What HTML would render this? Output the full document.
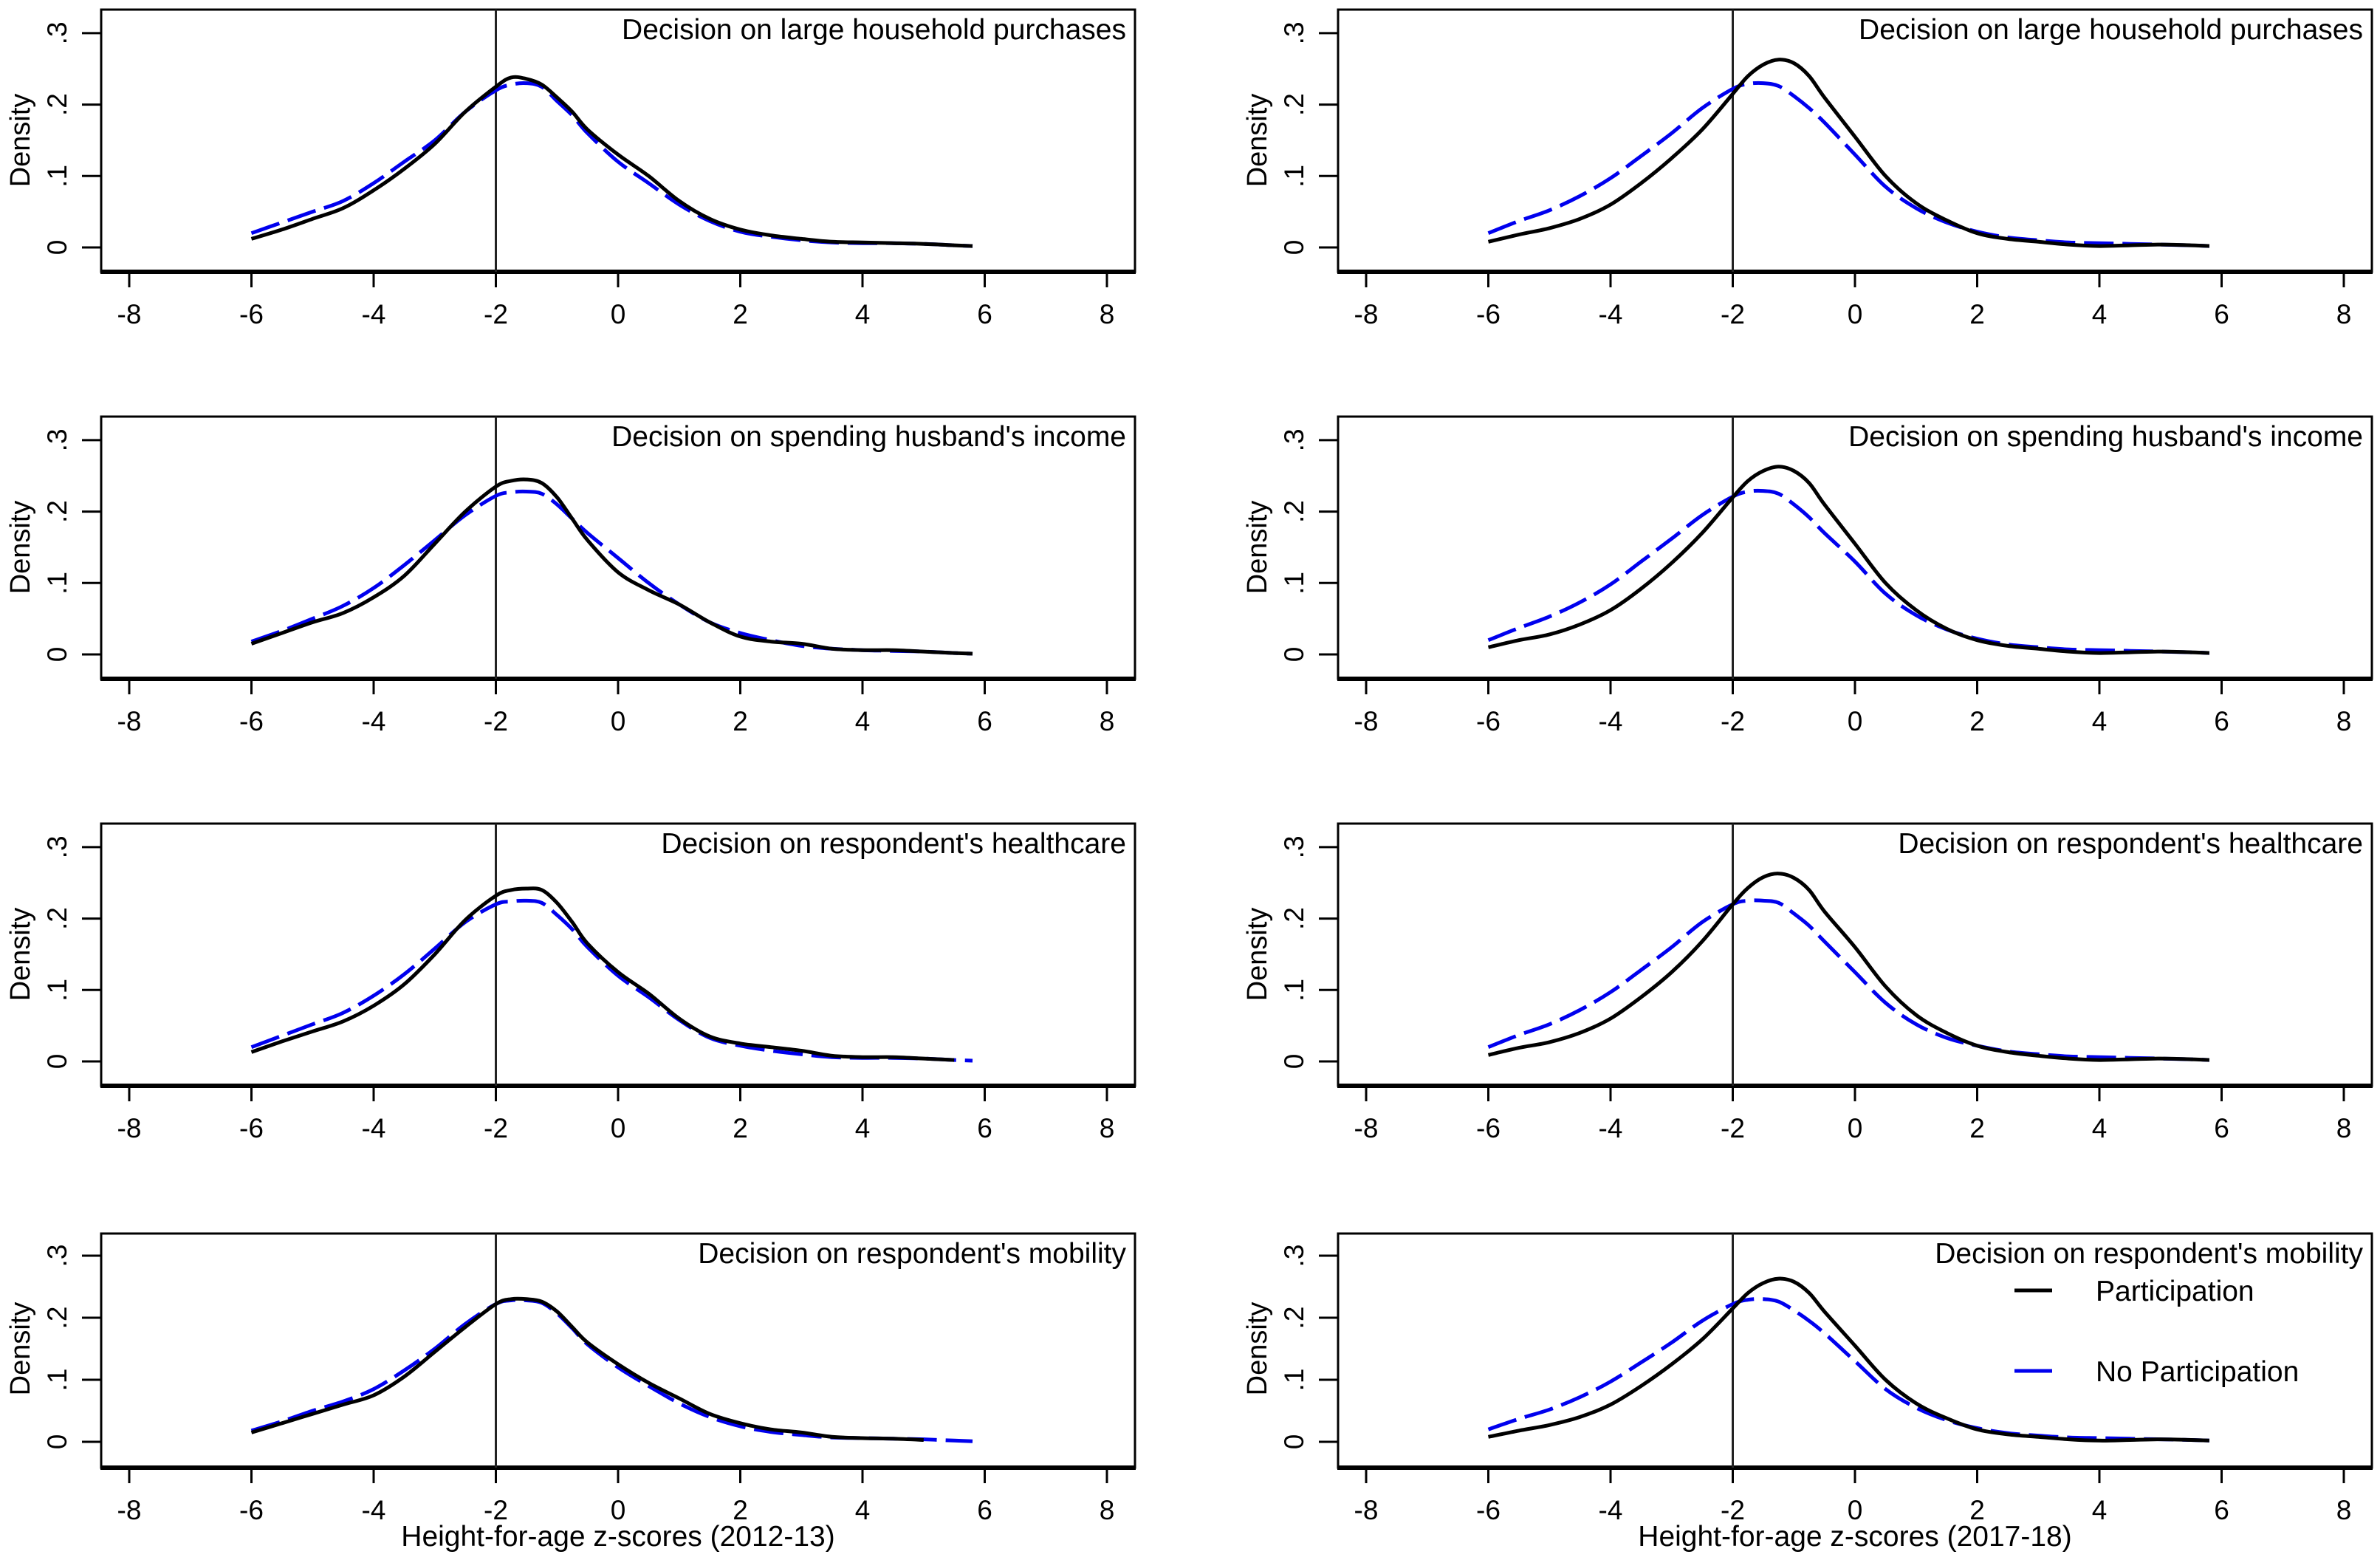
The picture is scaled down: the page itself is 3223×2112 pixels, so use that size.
<!DOCTYPE html>
<html><head><meta charset="utf-8"><style>
html,body{margin:0;padding:0;background:#fff}
svg{display:block;font-family:"Liberation Sans",Arial,sans-serif}
</style></head><body>
<svg id="chart" width="3223" height="2112" viewBox="0 0 3223 2112" xmlns="http://www.w3.org/2000/svg"></svg>
<script>
const xs=[-6,-5.5,-5,-4.5,-4,-3.5,-3,-2.5,-2,-1.75,-1.5,-1.25,-1,-0.75,-0.5,0,0.5,1,1.5,2,2.5,3,3.5,4,4.5,5,5.5,5.8];
const xTicks=[-8,-6,-4,-2,0,2,4,6,8];
const yTicks=[0,0.1,0.2,0.3];
const yTickLabels=["0",".1",".2",".3"];
const titles=["Decision on large household purchases","Decision on spending husband's income","Decision on respondent's healthcare","Decision on respondent's mobility"];
const xTitles=["Height-for-age z-scores (2012-13)","Height-for-age z-scores (2017-18)"];
const cutoff=-2;
// left column (2012-13)
const L1p=[0.012,0.025,0.04,0.055,0.08,0.11,0.145,0.19,0.225,0.238,0.236,0.228,0.21,0.19,0.165,0.13,0.1,0.065,0.04,0.025,0.017,0.012,0.008,0.007,0.006,0.005,0.003,0.002];
const L1n=[0.02,0.035,0.05,0.065,0.09,0.12,0.15,0.19,0.22,0.228,0.23,0.225,0.205,0.185,0.16,0.12,0.09,0.06,0.037,0.022,0.015,0.01,0.007,0.006,0.006,0.005,0.003,0.002];
const L2p=[0.015,0.03,0.045,0.058,0.08,0.11,0.155,0.2,0.235,0.243,0.245,0.24,0.22,0.19,0.16,0.115,0.09,0.07,0.045,0.025,0.018,0.015,0.008,0.006,0.006,0.004,0.002,0.001];
const L2n=[0.018,0.033,0.05,0.068,0.093,0.125,0.16,0.195,0.222,0.227,0.228,0.225,0.21,0.19,0.17,0.135,0.1,0.07,0.045,0.03,0.02,0.012,0.008,0.006,0.005,0.004,0.002,0.001];
const L3p=[0.013,0.028,0.042,0.056,0.078,0.108,0.15,0.198,0.232,0.24,0.242,0.24,0.222,0.195,0.165,0.125,0.095,0.06,0.035,0.025,0.02,0.015,0.008,0.006,0.006,0.004,0.002,null];
const L3n=[0.02,0.036,0.052,0.068,0.092,0.122,0.158,0.195,0.22,0.224,0.225,0.222,0.205,0.185,0.16,0.12,0.09,0.058,0.033,0.022,0.015,0.01,0.006,0.005,0.005,0.004,0.002,0.001];
const L4p=[0.015,0.03,0.045,0.06,0.075,0.105,0.145,0.185,0.222,0.23,0.23,0.226,0.21,0.185,0.16,0.125,0.095,0.07,0.045,0.03,0.02,0.015,0.008,0.006,0.005,0.003,null,null];
const L4n=[0.018,0.033,0.05,0.065,0.085,0.115,0.15,0.19,0.222,0.228,0.228,0.224,0.207,0.183,0.157,0.12,0.09,0.062,0.04,0.025,0.016,0.011,0.007,0.006,0.005,0.004,0.002,0.001];
// right column (2017-18)
const R1p=[0.008,0.018,0.027,0.04,0.06,0.09,0.125,0.165,0.215,0.24,0.256,0.263,0.258,0.24,0.21,0.155,0.1,0.062,0.038,0.02,0.012,0.008,0.004,0.002,0.003,0.004,0.003,0.002];
const R1n=[0.02,0.037,0.052,0.072,0.097,0.128,0.16,0.195,0.222,0.229,0.23,0.226,0.212,0.195,0.175,0.13,0.085,0.055,0.035,0.022,0.014,0.01,0.007,0.006,0.005,0.004,0.003,0.002];
const R2p=[0.01,0.02,0.028,0.042,0.062,0.092,0.128,0.17,0.22,0.243,0.257,0.263,0.257,0.24,0.21,0.155,0.1,0.062,0.036,0.02,0.012,0.008,0.004,0.002,0.003,0.004,0.003,0.002];
const R2n=[0.02,0.037,0.053,0.073,0.098,0.13,0.162,0.195,0.221,0.228,0.229,0.225,0.21,0.192,0.17,0.13,0.085,0.055,0.035,0.022,0.014,0.01,0.007,0.006,0.005,0.004,0.003,0.002];
const R3p=[0.009,0.019,0.027,0.04,0.06,0.09,0.125,0.168,0.22,0.243,0.258,0.263,0.257,0.24,0.21,0.16,0.105,0.065,0.04,0.022,0.013,0.008,0.004,0.002,0.003,0.004,0.003,0.002];
const R3n=[0.02,0.037,0.052,0.072,0.097,0.128,0.16,0.195,0.22,0.225,0.225,0.222,0.207,0.19,0.168,0.125,0.082,0.052,0.033,0.022,0.014,0.01,0.007,0.006,0.005,0.004,0.003,0.002];
const R4p=[0.008,0.018,0.027,0.04,0.06,0.09,0.125,0.165,0.215,0.24,0.256,0.263,0.258,0.24,0.21,0.155,0.1,0.062,0.038,0.02,0.012,0.008,0.004,0.002,0.003,0.004,0.003,0.002];
const R4n=[0.02,0.037,0.052,0.072,0.097,0.128,0.16,0.195,0.222,0.229,0.23,0.226,0.212,0.195,0.175,0.13,0.085,0.055,0.035,0.022,0.014,0.01,0.007,0.006,0.005,0.004,0.003,0.002];
const seriesP=[[L1p,L2p,L3p,L4p],[R1p,R2p,R3p,R4p]];
const seriesN=[[L1n,L2n,L3n,L4n],[R1n,R2n,R3n,R4n]];
const legendLabels=["Participation","No Participation"];

const NS="http://www.w3.org/2000/svg";
const svg=document.getElementById('chart');
function mk(tag,attrs,parent){const e=document.createElementNS(NS,tag);for(const k in attrs)e.setAttribute(k,attrs[k]);(parent||svg).appendChild(e);return e;}
const colLeft=[137,1812],colRight=[1537,3212];
const rowTop=[13,564,1115,1670],rowH=[355,355,355,317],rowZero=[322,322,322,282],rowUnit=[967,967,967,840];

function smoothPath(pts){
  let d="M"+pts[0][0].toFixed(1)+","+pts[0][1].toFixed(1);
  for(let i=0;i<pts.length-1;i++){
    const p0=pts[i-1]||pts[i],p1=pts[i],p2=pts[i+1],p3=pts[i+2]||p2;
    const c1x=p1[0]+(p2[0]-p0[0])/6,c1y=p1[1]+(p2[1]-p0[1])/6;
    const c2x=p2[0]-(p3[0]-p1[0])/6,c2y=p2[1]-(p3[1]-p1[1])/6;
    d+=" C"+c1x.toFixed(1)+","+c1y.toFixed(1)+" "+c2x.toFixed(1)+","+c2y.toFixed(1)+" "+p2[0].toFixed(1)+","+p2[1].toFixed(1);
  }
  return d;
}

for(let c=0;c<2;c++){
  for(let r=0;r<4;r++){
    const L=colLeft[c],R=colRight[c],T=rowTop[r],B=T+rowH[r];
    const xS=v=>L+38+(v+8)*82.75;
    const yS=v=>T+rowZero[r]-v*rowUnit[r];
    const g=mk('g',{});
    
    
    const box=mk('rect',{x:L,y:T,width:R-L,height:B-T,fill:'none',stroke:'#000','stroke-width':3},g);
    
    const ax=mk('line',{x1:L-1,x2:R+1,y1:B,y2:B,stroke:'#000','stroke-width':6},g);
    
    xTicks.forEach(t=>{
      const tk=mk('line',{x1:xS(t),x2:xS(t),y1:B,y2:B+21,stroke:'#000','stroke-width':3},g);
      
      const tl=mk('text',{x:xS(t),y:B+70,'font-size':37,'text-anchor':'middle'},g);
      tl.textContent=String(t);
      
    });
    yTicks.forEach((t,i)=>{
      const y=yS(t);
      const tk=mk('line',{x1:L-26,x2:L,y1:y,y2:y,stroke:'#000','stroke-width':3},g);
      
      const tl=mk('text',{x:L-60,y:y,'font-size':37,'text-anchor':'middle',transform:'rotate(-90 '+(L-60)+' '+y+')',dy:13},g);
      tl.textContent=yTickLabels[i];
      
    });
    const yc=yS(0.15);
    const yt=mk('text',{x:L-110,y:yc,'font-size':38,'text-anchor':'middle',transform:'rotate(-90 '+(L-110)+' '+yc+')',dy:13},g);
    yt.textContent='Density';
    
    const vl=mk('line',{x1:xS(cutoff),x2:xS(cutoff),y1:T,y2:B,stroke:'#222','stroke-width':3},g);
    
    const ttl=mk('text',{x:R-12,y:T+40,'font-size':39,'text-anchor':'end'},g);
    ttl.textContent=titles[r];
    
    [[seriesN[c][r],'#0000ee','40 12','no-participation-curve'],[seriesP[c][r],'#000','none','participation-curve']].forEach(s=>{
      const pts=[];s[0].forEach((v,i)=>{if(v!==null)pts.push([xS(xs[i]),yS(v)]);});
      const p=mk('path',{d:smoothPath(pts),fill:'none',stroke:s[1],'stroke-width':5,'stroke-dasharray':s[2],'stroke-linejoin':'round'},g);
      
    });
    if(r===3){
      const xt=mk('text',{x:xS(0),y:2093,'font-size':39,'text-anchor':'middle'},g);
      xt.textContent=xTitles[c];
      
    }
    if(c===1&&r===3){
      const lg=mk('g',{},g);
      
      [[1747,'#000',legendLabels[0]],[1856,'#0000ee',legendLabels[1]]].forEach(e=>{
        const ln=mk('line',{x1:2728,x2:2779,y1:e[0],y2:e[0],stroke:e[1],'stroke-width':5},lg);
        
        const tx=mk('text',{x:2838,y:e[0]+14,'font-size':39},lg);
        tx.textContent=e[2];
        
      });
    }
  }
}
</script>
</body></html>
